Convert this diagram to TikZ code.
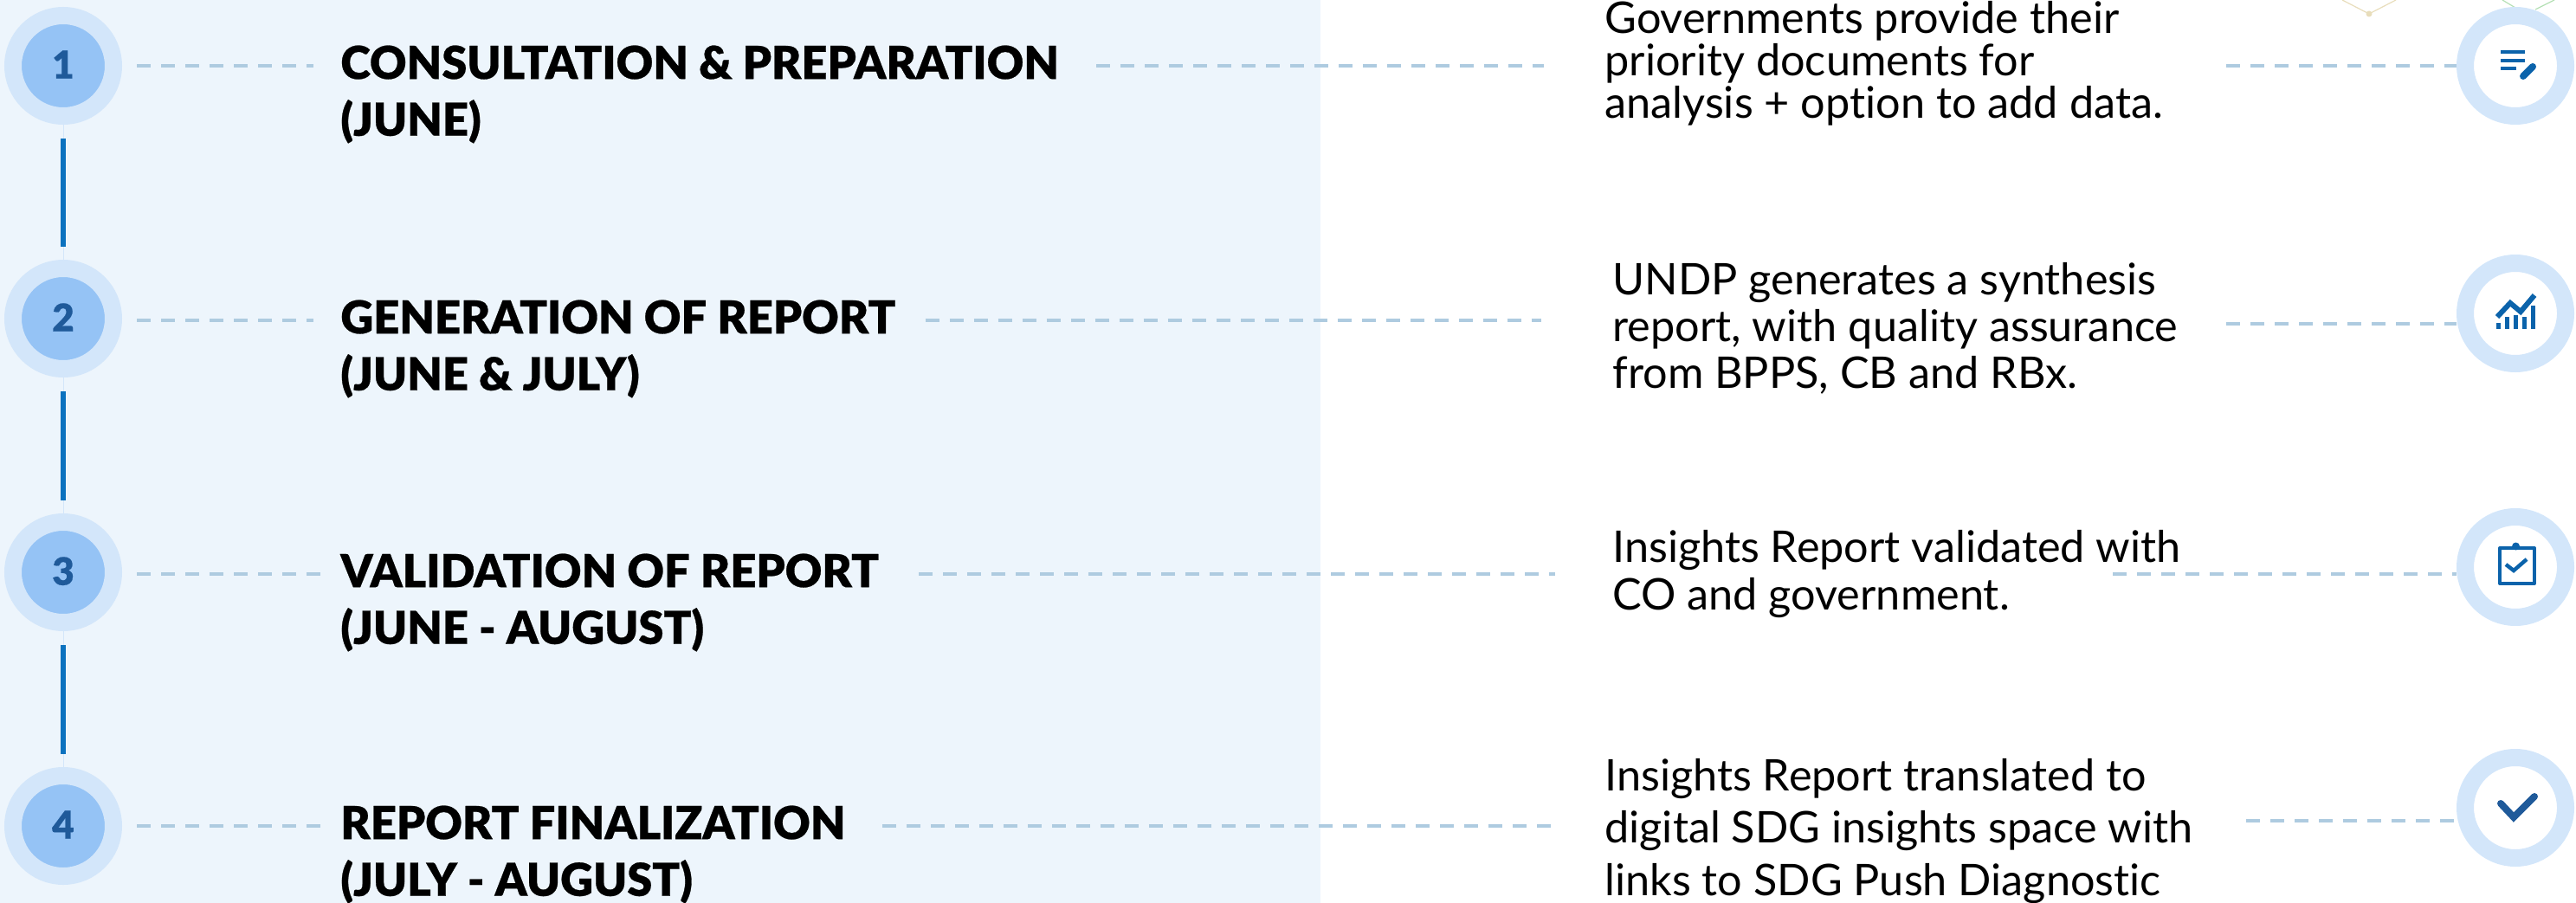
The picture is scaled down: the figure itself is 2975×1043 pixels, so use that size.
\documentclass[tikz,border=0pt]{standalone}
\usepackage{fontspec}
\setmainfont[Ligatures=CommonOff]{Lato}
\newfontfamily\headfont[FakeBold=0.5]{Lato Black}
\definecolor{panelblue}{HTML}{EDF5FC}
\definecolor{ringblue}{HTML}{D3E6FA}
\definecolor{diskblue}{HTML}{95C3F5}
\definecolor{numblue}{HTML}{1F5A9A}
\definecolor{linkblue}{HTML}{0B72BF}
\definecolor{dashblue}{HTML}{AECBE0}
\definecolor{iconblue}{HTML}{0B63AB}
\definecolor{tanline}{HTML}{E8DDBB}
\definecolor{greenline}{HTML}{B5E0B5}
\tikzset{
  stepdisk/.style={circle,draw=ringblue,line width=10pt,fill=diskblue,minimum size=58pt,inner sep=0pt,text=numblue,font=\headfont\fontsize{22}{22}\selectfont},
  iconring/.style={circle,draw=ringblue,line width=10pt,fill=white,minimum size=58pt,inner sep=0pt},
  heading/.style={anchor=west,align=left,inner sep=0pt,font=\headfont\fontsize{26.2}{32.8}\selectfont},
  detail/.style={anchor=west,align=left,inner sep=0pt,font=\fontsize{25.2}{#1}\selectfont},
  dashlink/.style={draw=dashblue,line width=2.2pt,dash pattern=on 8pt off 6pt},
  steplink/.style={draw=linkblue,line width=3pt,shorten <=8pt,shorten >=7.5pt},
  iconline/.style={draw=iconblue,line width=2pt}
}
\begin{document}
\begin{tikzpicture}[x=0.5pt,y=-0.5pt]
  \useasboundingbox (0,0) rectangle (2975,1043);
  \fill[panelblue] (0,0) rectangle (1525,1043);
  \draw[tanline,line width=0.6pt] (2705,0) -- (2736,16) -- (2767,0);
  \fill[tanline] (2736,16) circle (3.5);
  \draw[greenline,line width=0.6pt] (2890,0) -- (2910,12) (2928,11) -- (2950,0);
  \draw
    (73,76) node[stepdisk] (n1){\raisebox{1.5pt}{1}}
    (73,368) node[stepdisk] (n2){\raisebox{1.5pt}{2}}
    (73,661) node[stepdisk] (n3){\raisebox{1.5pt}{3}}
    (73,954) node[stepdisk] (n4){\raisebox{1.5pt}{4}};
  \draw
    (2905,76) node[iconring] (r1){}
    (2905,362) node[iconring] (r2){}
    (2905,655) node[iconring] (r3){}
    (2905,933) node[iconring] (r4){};
  \draw
    (393,109) node[heading] (t1){CONSULTATION \& PREPARATION\\(JUNE)}
    (393,403) node[heading] (t2){GENERATION OF REPORT\\(JUNE \& JULY)}
    (393,696) node[heading] (t3){VALIDATION OF REPORT\\(JUNE - AUGUST)}
    (393,987) node[heading] (t4){REPORT FINALIZATION\\(JULY - AUGUST)};
  \draw
    (1853,73) node[detail=24.4] (b1){Governments provide their\\priority documents for\\analysis + option to add data.}
    (1862,379) node[detail=27] (b2){UNDP generates a synthesis\\report, with quality assurance\\from BPPS, CB and RBx.}
    (1862,663) node[detail=27.5] (b3){Insights Report validated with\\CO and government.}
    (1853,960) node[detail=30.4] (b4){Insights Report translated to\\digital SDG insights space with\\links to SDG Push Diagnostic};
  \coordinate (s1) at (2571,76);
  \coordinate (s2) at (2571,374);
  \coordinate (s3) at (2440,663);
  \coordinate (s4) at (2594,948);
  \begin{scope}[-]
    \draw[ringblue,line width=0.5pt] (n1) to (n2);
    \draw[ringblue,line width=0.5pt] (n2) to (n3);
    \draw[ringblue,line width=0.5pt] (n3) to (n4);
    \draw[steplink] (n1.south) to (n2.north);
    \draw[steplink] (n2.south) to (n3.north);
    \draw[steplink] (n3.south) to (n4.north);
    \draw[dashlink,shorten <=8.5pt,shorten >=15.5pt] (n1.east) to (n1.east -| t1.west);
    \draw[dashlink,shorten <=8.5pt,shorten >=15.5pt] ([yshift=-1pt]n2.east) to ([yshift=-1pt]n2.east -| t2.west);
    \draw[dashlink,shorten <=8.5pt,shorten >=11.5pt] ([yshift=-1pt]n3.east) to ([yshift=-1pt]n3.east -| t3.west);
    \draw[dashlink,shorten <=8.5pt,shorten >=11pt] (n4.east) to (n4.east -| t4.west);
    \draw[dashlink,shorten <=21.5pt,shorten >=35pt] (t1.east |- n1) to (b1.west |- n1);
    \draw[dashlink,shorten <=17pt,shorten >=41pt] ([yshift=-1pt]t2.east |- n2) to ([yshift=-1pt]b2.west |- n2);
    \draw[dashlink,shorten <=23pt,shorten >=33pt] ([yshift=-1pt]t3.east |- n3) to ([yshift=-1pt]b3.west |- n3);
    \draw[dashlink,shorten <=21pt,shorten >=31pt] (t4.east |- n4) to (b4.west |- n4);
    \draw[dashlink] (s1) to (s1 -| r1.west);
    \draw[dashlink] (s2) to (s2 -| r2.west);
    \draw[dashlink] (s3) to (s3 -| r3.west);
    \draw[dashlink] (s4) to (s4 -| r4.west);
  \end{scope}
  % icons
  \draw[iconline] (2888,60) -- (2916,60) (2888,70) -- (2916,70) (2888,79) -- (2906,79);
  \draw[iconblue,line width=4pt,line cap=round] (2914,88) -- (2925,77);
  \draw[iconline,line width=3pt,line join=miter] (2884,366) -- (2899,350) -- (2911,360) -- (2927,341);
  \draw[iconline,line width=2.5pt] (2885,380) -- (2885,373) (2895,380) -- (2895,366) (2905,380) -- (2905,364) (2915,380) -- (2915,366) (2925,380) -- (2925,353);
  \draw[iconline,line width=2pt,line join=round] (2887,633) rectangle (2927,674);
  \fill[iconblue] (2905.5,631) circle (4.5);
  \draw[iconline,line width=2.2pt] (2894,652) -- (2903,659) -- (2918,646);
  \draw[numblue,line width=4pt,line cap=round] (2888,928) -- (2903,944) -- (2927,920);
\end{tikzpicture}
\end{document}
